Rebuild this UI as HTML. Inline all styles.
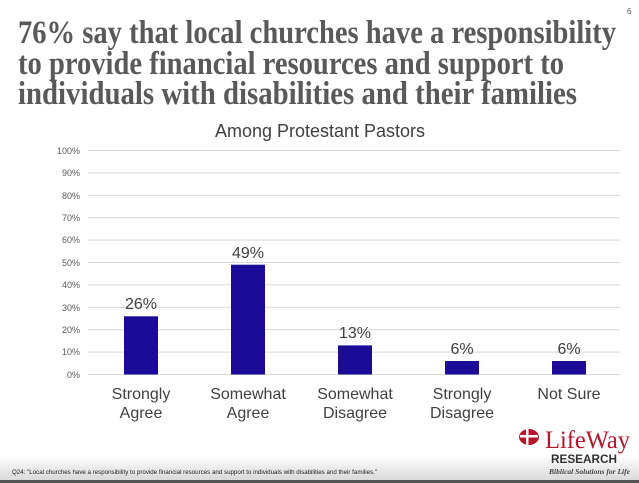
<!DOCTYPE html>
<html><head><meta charset="utf-8"><style>
html,body{margin:0;padding:0;background:#fff;}
svg{display:block;}
</style></head><body>
<svg width="639" height="483" viewBox="0 0 639 483" xmlns="http://www.w3.org/2000/svg">
<defs><linearGradient id="ft" x1="0" y1="0" x2="0" y2="1"><stop offset="0" stop-color="#fff"/><stop offset="1" stop-color="#d8d8d8"/></linearGradient></defs>
<rect width="639" height="483" fill="#fff"/>
<rect x="0" y="455" width="639" height="26" fill="url(#ft)"/>
<rect x="0" y="480" width="639" height="3" fill="#555"/>
<g font-family="Liberation Serif, serif" font-weight="bold" fill="#595959" font-size="33">
<text x="18" y="43" textLength="598" lengthAdjust="spacingAndGlyphs">76% say that local churches have a responsibility</text>
<text x="18" y="74" textLength="546" lengthAdjust="spacingAndGlyphs">to provide financial resources and support to</text>
<text x="18" y="104" textLength="559" lengthAdjust="spacingAndGlyphs">individuals with disabilities and their families</text>
</g>
<text x="627" y="14" font-family="Liberation Sans, sans-serif" font-size="8" fill="#555">6</text>
<text x="320" y="137" text-anchor="middle" font-family="Liberation Sans, sans-serif" font-size="18" fill="#404040">Among Protestant Pastors</text>
<g stroke="#d9d9d9" stroke-width="1">
<line x1="88" x2="620" y1="150.5" y2="150.5"/><line x1="88" x2="620" y1="172.9" y2="172.9"/>
<line x1="88" x2="620" y1="195.3" y2="195.3"/><line x1="88" x2="620" y1="217.7" y2="217.7"/>
<line x1="88" x2="620" y1="240.1" y2="240.1"/><line x1="88" x2="620" y1="262.5" y2="262.5"/>
<line x1="88" x2="620" y1="284.9" y2="284.9"/><line x1="88" x2="620" y1="307.3" y2="307.3"/>
<line x1="88" x2="620" y1="329.7" y2="329.7"/><line x1="88" x2="620" y1="352.1" y2="352.1"/>
<line x1="88" x2="620" y1="374.5" y2="374.5"/>
</g>
<g font-family="Liberation Sans, sans-serif" font-size="9" fill="#595959" text-anchor="end">
<text x="80" y="154">100%</text><text x="80" y="176">90%</text><text x="80" y="199">80%</text>
<text x="80" y="221">70%</text><text x="80" y="243">60%</text><text x="80" y="266">50%</text>
<text x="80" y="288">40%</text><text x="80" y="311">30%</text><text x="80" y="333">20%</text>
<text x="80" y="355">10%</text><text x="80" y="378">0%</text>
</g>
<g fill="#1b0b96">
<rect x="124" y="316.3" width="34" height="58.2"/>
<rect x="231" y="264.7" width="34" height="109.8"/>
<rect x="338" y="345.4" width="34" height="29.1"/>
<rect x="445" y="361" width="34" height="13.5"/>
<rect x="552" y="361" width="34" height="13.5"/>
</g>
<g font-family="Liberation Sans, sans-serif" font-size="16" fill="#404040" text-anchor="middle">
<text x="141" y="309">26%</text><text x="248" y="258">49%</text><text x="355" y="338">13%</text>
<text x="462" y="354">6%</text><text x="569" y="354">6%</text>
<text x="141" y="399">Strongly</text><text x="141" y="418">Agree</text>
<text x="248" y="399">Somewhat</text><text x="248" y="418">Agree</text>
<text x="355" y="399">Somewhat</text><text x="355" y="418">Disagree</text>
<text x="462" y="399">Strongly</text><text x="462" y="418">Disagree</text>
<text x="569" y="399">Not Sure</text>
</g>
<text x="12" y="474" font-family="Liberation Sans, sans-serif" font-size="6.5" fill="#222" textLength="365" lengthAdjust="spacingAndGlyphs">Q24: "Local churches have a responsibility to provide financial resources and support to individuals with disabilities and their families."</text>
<g>
<ellipse cx="529" cy="437" rx="10" ry="8" fill="#b5162b"/>
<rect x="520" y="435" width="18" height="2.5" fill="#fff"/>
<rect x="526" y="429" width="2.5" height="16" fill="#fff"/>
<text x="545" y="448" font-family="Liberation Serif, serif" font-size="25" fill="#b5162b" textLength="85" lengthAdjust="spacingAndGlyphs">LifeWay</text>
<text x="551" y="463" font-family="Liberation Sans, sans-serif" font-weight="bold" font-size="12" fill="#333" textLength="66" lengthAdjust="spacingAndGlyphs">RESEARCH</text>
<text x="549" y="474" font-family="Liberation Serif, serif" font-style="italic" font-weight="bold" font-size="7.5" fill="#444" textLength="81" lengthAdjust="spacingAndGlyphs">Biblical Solutions for Life</text>
</g>
</svg>
</body></html>
